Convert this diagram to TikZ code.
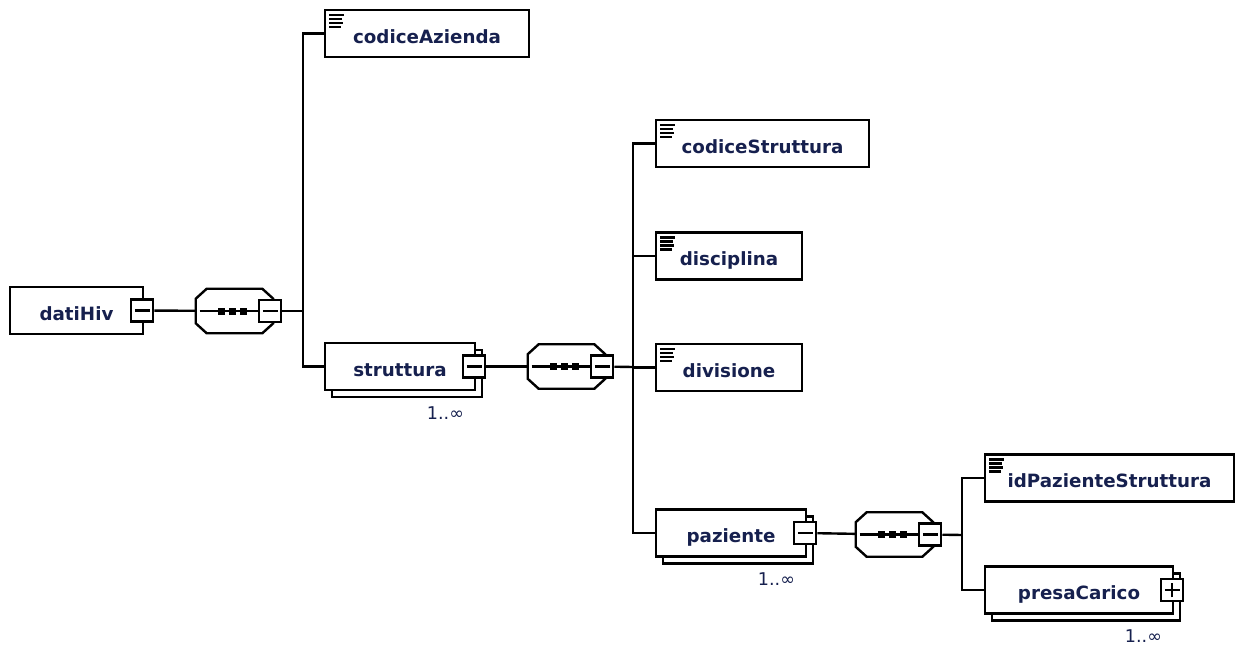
\documentclass[tikz,border=0pt]{standalone}
\usepackage{fontspec}
\setmainfont{DejaVu Sans}
\usetikzlibrary{positioning,shadows}

\definecolor{nametext}{RGB}{22,32,78}

\tikzset{
    elem/.style={draw, fill=white, line width=0.6mm, inner sep=0pt,
        minimum height=11.75mm, text height=14pt, text depth=0pt,
        font=\fontsize{13}{15}\selectfont\bfseries, text=nametext},
    leaf/.style={elem, path picture={
        \foreach \k/\w in {0/15, 1/13, 2/14, 3/12}
            \draw[line width=0.55mm] ([shift={(4,5+\k*4)}]path picture bounding box.north west) -- ++(\w,0);}},
    many/.style={elem, copy shadow={shadow xshift=1.75mm, shadow yshift=-1.75mm,
        draw, fill=white, line width=0.6mm}},
    minus/.style={draw, fill=white, line width=0.6mm, minimum size=5.5mm, inner sep=0pt,
        path picture={\draw[line width=0.55mm] ([xshift=0.9mm]path picture bounding box.west) -- ([xshift=-0.9mm]path picture bounding box.east);}},
    plus/.style={draw, fill=white, line width=0.6mm, minimum size=5.5mm, inner sep=0pt,
        path picture={\draw[line width=0.55mm] ([xshift=0.9mm]path picture bounding box.west) -- ([xshift=-0.9mm]path picture bounding box.east);
            \draw[line width=0.55mm] ([yshift=0.9mm]path picture bounding box.south) -- ([yshift=-0.9mm]path picture bounding box.north);}},
    seq/.style={rectangle, minimum width=19.25mm, minimum height=11mm, inner sep=0pt},
    card/.style={font=\fontsize{12.5}{14}\selectfont, text=nametext, inner sep=0pt},
    link/.style={line width=0.6mm}
}

% octagon frame of a sequence with its dotted line
\newcommand{\seqframe}[1]{%
    \draw[link, fill=white] ([shift={(11,0)}]#1.north west) -- ([shift={(-11,0)}]#1.north east)
        -- ([shift={(0,10)}]#1.north east) -- ([shift={(0,-10)}]#1.south east)
        -- ([shift={(-11,0)}]#1.south east) -- ([shift={(11,0)}]#1.south west)
        -- ([shift={(0,-10)}]#1.south west) -- ([shift={(0,10)}]#1.north west) -- cycle;
    \draw[link] ([shift={(4,0)}]#1.west) -- ([shift={(-10,0)}]#1.east);
    \foreach \d in {-13,-2,9}
        \fill ([shift={(\d,0)}]#1.center) +(-3.5,-3.5) rectangle +(3.5,3.5);
}

\begin{document}
\begin{tikzpicture}[x=0.25mm, y=-0.25mm]
    \useasboundingbox (0,0) rectangle (1236,645);

    % Root element
    \node[elem, minimum width=33.25mm] (datiHiv) at (76.5,310.5) {datiHiv};
    \node[minus] (datiHiv-t) at ([xshift=-0.5mm]datiHiv.east) {};

    % First sequence
    \node[seq] (seq1) at (234.5,311) {};
    \seqframe{seq1}
    \node[minus] (seq1-t) at ([xshift=-0.75mm]seq1.east) {};
    \coordinate (t1) at (303,311);

    \node[leaf, minimum width=51mm] (codiceAzienda) at (427,33.5) {codiceAzienda};
    \node[many, minimum width=37.5mm] (struttura) at (400,366.5) {struttura};
    \node[minus] (struttura-t) at ([xshift=-0.5mm]struttura.east) {};
    \node[card, below left=3.75mm and 3mm of struttura.south east] (struttura-card) {1..∞};

    % Second sequence
    \node[seq] (seq2) at (566.5,366.5) {};
    \seqframe{seq2}
    \node[minus] (seq2-t) at ([xshift=-0.75mm]seq2.east) {};
    \coordinate (t2) at (633,367);

    \node[leaf, minimum width=53.25mm] (codiceStruttura) at (762.5,143.5) {codiceStruttura};
    \node[leaf, minimum width=36.5mm] (disciplina) at (729,256) {disciplina};
    \node[leaf, minimum width=36.5mm] (divisione) at (729,367.5) {divisione};
    \node[many, minimum width=37.5mm] (paziente) at (731,533) {paziente};
    \node[minus] (paziente-t) at ([xshift=-0.5mm]paziente.east) {};
    \node[card, below left=3.75mm and 3mm of paziente.south east] (paziente-card) {1..∞};

    % Third sequence
    \node[seq] (seq3) at (894.5,534.5) {};
    \seqframe{seq3}
    \node[minus] (seq3-t) at ([xshift=-0.75mm]seq3.east) {};
    \coordinate (t3) at (962,535);

    \node[leaf, minimum width=62.25mm] (idPazienteStruttura) at (1109.5,478) {idPazienteStruttura};
    \node[many, minimum width=47mm] (presaCarico) at (1079,590) {presaCarico};
    \node[plus] (presaCarico-t) at ([xshift=-0.5mm]presaCarico.east) {};
    \node[card, below left=3.75mm and 3mm of presaCarico.south east] (presaCarico-card) {1..∞};

    % Connectors
    \draw[link] (datiHiv-t) -- (seq1);
    \draw[link] (seq1-t) -- (t1);
    \draw[link] (codiceAzienda.west) -| (t1) |- (struttura.west);

    \draw[link] (struttura-t) -- (seq2);
    \draw[link] (seq2-t) -- (t2);
    \draw[link] (codiceStruttura.west) -| (t2) |- (paziente.west);
    \draw[link] (disciplina.west) -- (disciplina.west -| t2);
    \draw[link] (divisione.west) -- (divisione.west -| t2);

    \draw[link] (paziente-t) -- (seq3);
    \draw[link] (seq3-t) -- (t3);
    \draw[link] (idPazienteStruttura.west) -| (t3) |- (presaCarico.west);
\end{tikzpicture}
\end{document}
